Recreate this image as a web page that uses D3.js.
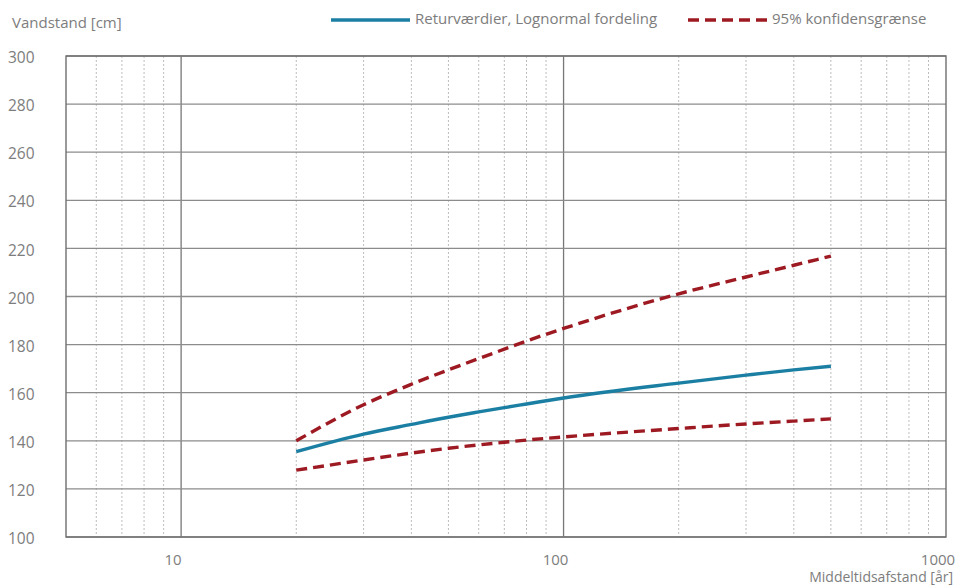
<!DOCTYPE html>
<html>
<head>
<meta charset="utf-8">
<script src="https://cdn.jsdelivr.net/npm/d3@7"></script>
<style>
  html, body { margin: 0; padding: 0; background: #fff; }
  svg { display: block; }
  text { font-family: "Open Sans", "DejaVu Sans", sans-serif; fill: #7d7d7d; }
</style>
</head>
<body>
<svg id="chart" width="961" height="586"></svg>
<script>
// ---- data ----
const returnPeriods = [20, 30, 40, 50, 60, 70, 80, 100, 200, 300, 400, 500];
const lognormal     = [135.5, 142.8, 146.8, 149.8, 152.0, 153.8, 155.3, 157.8, 164.0, 167.3, 169.5, 171.0];
const upperCI       = [140.0, 155.0, 163.5, 169.5, 174.2, 178.1, 181.5, 186.7, 201.1, 208.1, 213.0, 216.8];
const lowerCI       = [127.8, 132.0, 134.9, 136.9, 138.3, 139.4, 140.3, 141.6, 145.1, 147.0, 148.2, 149.1];
const yTicks = [100, 120, 140, 160, 180, 200, 220, 240, 260, 280, 300];
const xTickLabels = [10, 100, 1000];
const minorTicks = [6, 7, 8, 9, 20, 30, 40, 50, 60, 70, 80, 90, 200, 300, 400, 500, 600, 700, 800, 900];
const legendLabels = ["Returværdier, Lognormal fordeling", "95% konfidensgrænse"];
const yTitle = "Vandstand [cm]";
const xTitle = "Middeltidsafstand [år]";

// ---- layout ----
const svg = d3.select("#chart");
const x = d3.scaleLog().domain([5, 1000]).range([66, 946]);
const y = d3.scaleLinear().domain([100, 300]).range([537, 56]);
const blue = "#1b7fa3";
const red = "#9e1a22";
const dash = "11,6";

// minor dotted vertical grid
svg.append("g").selectAll("line").data(minorTicks).join("line")
  .attr("x1", d => x(d)).attr("x2", d => x(d))
  .attr("y1", y(300)).attr("y2", y(100))
  .attr("stroke", "#bdbdbd").attr("stroke-width", 1)
  .attr("stroke-dasharray", "2,2");

// major vertical grid
svg.append("g").selectAll("line").data([10, 100]).join("line")
  .attr("x1", d => x(d)).attr("x2", d => x(d))
  .attr("y1", y(300)).attr("y2", y(100))
  .attr("stroke", "#777").attr("stroke-width", 1.3);

// horizontal grid
svg.append("g").selectAll("line").data(yTicks).join("line")
  .attr("x1", x(5)).attr("x2", x(1000))
  .attr("y1", d => y(d)).attr("y2", d => y(d))
  .attr("stroke", "#8c8c8c").attr("stroke-width", 1.3);

// frame
svg.append("rect")
  .attr("x", x(5)).attr("y", y(300))
  .attr("width", x(1000) - x(5)).attr("height", y(100) - y(300))
  .attr("fill", "none").attr("stroke", "#6f6f6f").attr("stroke-width", 1.4);

// y tick labels
svg.append("g").selectAll("text").data(yTicks).join("text")
  .attr("x", 8).attr("y", d => y(d) + 3)
  .attr("dominant-baseline", "middle")
  .attr("font-size", 15.5)
  .text(d => d);

// x tick labels
svg.append("g").selectAll("text").data(xTickLabels).join("text")
  .attr("x", d => x(d) - 8).attr("y", 565)
  .attr("text-anchor", "middle")
  .attr("font-size", 15)
  .text(d => d);

// axis titles
svg.append("text").attr("x", 12).attr("y", 28).attr("font-size", 15).text(yTitle);
svg.append("text").attr("x", 953).attr("y", 582).attr("text-anchor", "end").attr("font-size", 14).text(xTitle);

// curves
const line = d3.line().x(d => x(d[0])).y(d => y(d[1])).curve(d3.curveMonotoneX);
const series = [
  { vals: upperCI, color: red, dash: dash },
  { vals: lowerCI, color: red, dash: dash },
  { vals: lognormal, color: blue, dash: null }
];
series.forEach(s => {
  const pts = returnPeriods.map((t, i) => [t, s.vals[i]]);
  const p = svg.append("path").datum(pts)
    .attr("d", line).attr("fill", "none")
    .attr("stroke", s.color).attr("stroke-width", 3.4);
  if (s.dash) p.attr("stroke-dasharray", s.dash);
});

// legend
const lg = svg.append("g");
lg.append("line").attr("x1", 331).attr("x2", 410).attr("y1", 20).attr("y2", 20)
  .attr("stroke", blue).attr("stroke-width", 3.4);
lg.append("text").attr("x", 415).attr("y", 20).attr("dominant-baseline", "middle")
  .attr("font-size", 15).text(legendLabels[0]);
lg.append("line").attr("x1", 688).attr("x2", 768).attr("y1", 20).attr("y2", 20)
  .attr("stroke", red).attr("stroke-width", 3.4).attr("stroke-dasharray", dash);
lg.append("text").attr("x", 772).attr("y", 20).attr("dominant-baseline", "middle")
  .attr("font-size", 15).text(legendLabels[1]);
</script>
</body>
</html>
